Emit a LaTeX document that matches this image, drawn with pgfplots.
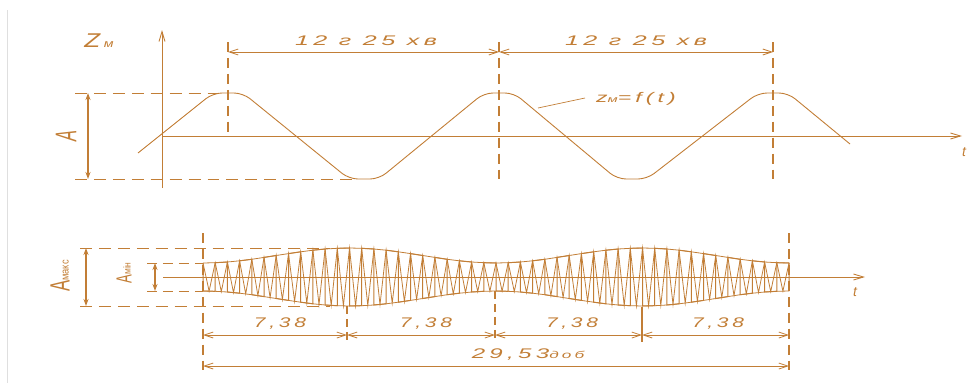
\documentclass[border=0pt]{standalone}
\usepackage{fontspec}
\setmainfont{Liberation Sans}
\newfontfamily\hand[LetterSpace=18]{Liberation Sans}
\usepackage{pgfplots}
\pgfplotsset{compat=1.18}
\usetikzlibrary{arrows.meta}
\definecolor{ink}{RGB}{194,126,54}
\tikzset{
  ln/.style={ink,line width=0.9pt},
  dsh/.style={ink,line width=0.9pt,dash pattern=on 12pt off 7pt},
  vdsh/.style={ink,line width=1.3pt,dash pattern=on 10pt off 6pt},
  dim/.style={ink,line width=0.8pt,{Straight Barb[length=9pt,width=6pt]}-{Straight Barb[length=9pt,width=6pt]}},
  amp/.style={ink,line width=1.2pt,{Stealth[length=7pt,width=5pt]}-{Stealth[length=7pt,width=5pt]}},
  ax/.style={ink,line width=0.9pt,-{Straight Barb[length=10pt,width=6pt]}},
  lbl/.style={text=ink,inner sep=0pt,xscale=1.5,font=\hand\itshape\fontsize{14}{14}\selectfont},
}
\begin{document}
\begin{tikzpicture}
\begin{axis}[width=968bp,height=383bp,scale only axis,
  xmin=0,xmax=968,ymin=0,ymax=383,y dir=reverse,
  hide axis,clip=false]
% frame corners (invisible)
\addplot[draw=none] coordinates {(0,0) (968,383)};
% light left border
\addplot[gray!25,line width=1pt] coordinates {(7,10) (7,383)};

% ---------------- TOP PANEL ----------------
\addplot[ax] coordinates {(162,188) (162,30)};
\addplot[ax] coordinates {(162,136) (962,136)};
% curve z = f(t)
\addplot[ln,rounded corners=9pt] coordinates {
 (138,153) (213,93) (243,93) (349,179) (379,179) (484,93) (514,93)
 (617,179) (647,179) (758,93) (788,93) (850,144)};
% dashed guides
\addplot[dsh] coordinates {(75,93) (224,93)};
\addplot[dsh] coordinates {(75,179) (352,179)};
\addplot[vdsh] coordinates {(228,42) (228,136)};
\addplot[vdsh] coordinates {(499,42) (499,180)};
\addplot[vdsh] coordinates {(773,42) (773,180)};
% dimension lines
\addplot[dim] coordinates {(228,52) (499,52)};
\addplot[dim] coordinates {(499,52) (773,52)};
% amplitude A
\addplot[amp] coordinates {(88,93) (88,179)};
% leader
\addplot[ln,line width=0.7pt] coordinates {(538,108) (585,98)};

% ---------------- BOTTOM PANEL ----------------
\addplot[ax] coordinates {(163,277) (865,277)};
% envelope top
\addplot[ln,line width=0.8pt] coordinates {
(203.0,263.0)(215.2,262.7)(227.4,262.0)(239.6,260.8)(251.8,259.3)(264.0,257.4)(276.2,255.5)(288.5,253.6)(300.7,251.8)(312.9,250.2)(325.1,249.0)(337.3,248.3)(349.5,248.0)(361.7,248.3)(373.9,249.0)(386.1,250.2)(398.3,251.8)(410.5,253.6)(422.7,255.5)(434.9,257.4)(447.2,259.3)(459.4,260.8)(471.6,262.0)(483.8,262.7)(496.0,263.0)(508.2,262.7)(520.4,262.0)(532.6,260.8)(544.8,259.3)(557.0,257.4)(569.2,255.5)(581.4,253.6)(593.7,251.8)(605.9,250.2)(618.1,249.0)(630.3,248.3)(642.5,248.0)(654.7,248.3)(666.9,249.0)(679.1,250.2)(691.3,251.8)(703.5,253.6)(715.7,255.5)(727.9,257.4)(740.2,259.3)(752.4,260.8)(764.6,262.0)(776.8,262.7)(789.0,263.0)};
% envelope bottom
\addplot[ln,line width=0.8pt] coordinates {
(203.0,291.0)(215.2,291.3)(227.4,292.0)(239.6,293.2)(251.8,294.7)(264.0,296.6)(276.2,298.5)(288.5,300.4)(300.7,302.2)(312.9,303.8)(325.1,305.0)(337.3,305.7)(349.5,306.0)(361.7,305.7)(373.9,305.0)(386.1,303.8)(398.3,302.2)(410.5,300.4)(422.7,298.5)(434.9,296.6)(447.2,294.7)(459.4,293.2)(471.6,292.0)(483.8,291.3)(496.0,291.0)(508.2,291.3)(520.4,292.0)(532.6,293.2)(544.8,294.7)(557.0,296.6)(569.2,298.5)(581.4,300.4)(593.7,302.2)(605.9,303.8)(618.1,305.0)(630.3,305.7)(642.5,306.0)(654.7,305.7)(666.9,305.0)(679.1,303.8)(691.3,302.2)(703.5,300.4)(715.7,298.5)(727.9,296.6)(740.2,294.7)(752.4,293.2)(764.6,292.0)(776.8,291.3)(789.0,291.0)};
% oscillation (zigzag)
\addplot[ln,line width=0.8pt] coordinates {
(203.0,263.0)(209.1,291.1)(215.2,262.7)(221.3,291.6)(227.4,262.0)(233.5,292.6)(239.6,260.8)(245.7,293.9)(251.8,259.3)(257.9,295.6)(264.0,257.4)(270.1,297.5)(276.2,255.5)(282.4,299.5)(288.5,253.6)(294.6,301.4)(300.7,251.8)(306.8,303.1)(312.9,250.2)(319.0,304.5)(325.1,249.0)(331.2,305.4)(337.3,248.3)(343.4,305.9)(349.5,248.0)(355.6,305.9)(361.7,248.3)(367.8,305.4)(373.9,249.0)(380.0,304.5)(386.1,250.2)(392.2,303.1)(398.3,251.8)(404.4,301.4)(410.5,253.6)(416.6,299.5)(422.7,255.5)(428.8,297.5)(434.9,257.4)(441.1,295.6)(447.2,259.3)(453.3,293.9)(459.4,260.8)(465.5,292.6)(471.6,262.0)(477.7,291.6)(483.8,262.7)(489.9,291.1)(496.0,263.0)
(502.1,291.1)(508.2,262.7)(514.3,291.6)(520.4,262.0)(526.5,292.6)(532.6,260.8)(538.7,293.9)(544.8,259.3)(550.9,295.6)(557.0,257.4)(563.1,297.5)(569.2,255.5)(575.3,299.5)(581.4,253.6)(587.6,301.4)(593.7,251.8)(599.8,303.1)(605.9,250.2)(612.0,304.5)(618.1,249.0)(624.2,305.4)(630.3,248.3)(636.4,305.9)(642.5,248.0)(648.6,305.9)(654.7,248.3)(660.8,305.4)(666.9,249.0)(673.0,304.5)(679.1,250.2)(685.2,303.1)(691.3,251.8)(697.4,301.4)(703.5,253.6)(709.6,299.5)(715.7,255.5)(721.8,297.5)(727.9,257.4)(734.0,295.6)(740.2,259.3)(746.3,293.9)(752.4,260.8)(758.5,292.6)(764.6,262.0)(770.7,291.6)(776.8,262.7)(782.9,291.1)(789.0,263.0)};
% oscillation (vertical strokes)
\addplot[ln,line width=1.0pt] coordinates {
(203.0,263.0)(203.0,291.0)(215.2,291.3)(215.2,262.7)(227.4,262.0)(227.4,292.0)(239.6,293.2)(239.6,260.8)(251.8,259.3)(251.8,294.7)(264.0,296.6)(264.0,257.4)(276.2,255.5)(276.2,298.5)(288.5,300.4)(288.5,253.6)(300.7,251.8)(300.7,302.2)(312.9,303.8)(312.9,250.2)(325.1,249.0)(325.1,305.0)(337.3,305.7)(337.3,248.3)(349.5,248.0)(349.5,306.0)(361.7,305.7)(361.7,248.3)(373.9,249.0)(373.9,305.0)(386.1,303.8)(386.1,250.2)(398.3,251.8)(398.3,302.2)(410.5,300.4)(410.5,253.6)(422.7,255.5)(422.7,298.5)(434.9,296.6)(434.9,257.4)(447.2,259.3)(447.2,294.7)(459.4,293.2)(459.4,260.8)(471.6,262.0)(471.6,292.0)(483.8,291.3)(483.8,262.7)(496.0,263.0)(496.0,291.0)
(508.2,291.3)(508.2,262.7)(520.4,262.0)(520.4,292.0)(532.6,293.2)(532.6,260.8)(544.8,259.3)(544.8,294.7)(557.0,296.6)(557.0,257.4)(569.2,255.5)(569.2,298.5)(581.4,300.4)(581.4,253.6)(593.7,251.8)(593.7,302.2)(605.9,303.8)(605.9,250.2)(618.1,249.0)(618.1,305.0)(630.3,305.7)(630.3,248.3)(642.5,248.0)(642.5,306.0)(654.7,305.7)(654.7,248.3)(666.9,249.0)(666.9,305.0)(679.1,303.8)(679.1,250.2)(691.3,251.8)(691.3,302.2)(703.5,300.4)(703.5,253.6)(715.7,255.5)(715.7,298.5)(727.9,296.6)(727.9,257.4)(740.2,259.3)(740.2,294.7)(752.4,293.2)(752.4,260.8)(764.6,262.0)(764.6,292.0)(776.8,291.3)(776.8,262.7)(789.0,263.0)(789.0,291.0)};
% dashed guides
\addplot[dsh] coordinates {(80,248) (330,248)};
\addplot[dsh] coordinates {(80,306) (330,306)};
\addplot[dsh,dash pattern=on 10pt off 6pt] coordinates {(147,263) (203,263)};
\addplot[dsh,dash pattern=on 10pt off 6pt] coordinates {(147,291) (203,291)};
\addplot[vdsh] coordinates {(203,233) (203,370)};
\addplot[vdsh] coordinates {(789,233) (789,370)};
\addplot[vdsh,dash pattern=on 8pt off 5pt] coordinates {(347,306) (347,342)};
\addplot[vdsh,dash pattern=on 8pt off 5pt] coordinates {(495,291) (495,342)};
\addplot[ln,line width=1.3pt] coordinates {(642,307) (642,342)};
% dimension lines
\addplot[dim] coordinates {(203,335) (347,335)};
\addplot[dim] coordinates {(347,335) (495,335)};
\addplot[dim] coordinates {(495,335) (642,335)};
\addplot[dim] coordinates {(642,335) (789,335)};
\addplot[dim] coordinates {(203,366) (789,366)};
% amplitude arrows
\addplot[amp] coordinates {(86,248) (86,306)};
\addplot[amp] coordinates {(155,263) (155,291)};

% ---------------- TEXT ----------------
\node[lbl,xscale=1.2] at (axis cs:366,41) {12 г 25 хв};
\node[lbl,xscale=1.2] at (axis cs:636,41) {12 г 25 хв};
\node[text=ink,inner sep=0pt,anchor=base west,xscale=1.3,font=\itshape] at (axis cs:84,47)
  {\fontsize{20}{20}\selectfont Z\hspace{3pt}\fontsize{11}{11}\selectfont м};
\node[text=ink,inner sep=0pt,rotate=90,xscale=0.55,font=\itshape\fontsize{30}{30}\selectfont] at (axis cs:66,136) {A};
\node[lbl,xscale=1.1] at (axis cs:636,99) {z\fontsize{9}{9}\selectfont м\fontsize{14}{14}\selectfont =f(t)};
\node[text=ink,inner sep=0pt,font=\itshape\fontsize{14}{14}\selectfont] at (axis cs:964,152) {t};
\node[text=ink,inner sep=0pt,font=\itshape\fontsize{14}{14}\selectfont] at (axis cs:855,292) {t};
\node[text=ink,inner sep=0pt,rotate=90,anchor=center,font=\fontsize{11}{11}\selectfont] at (axis cs:60,276)
  {\scalebox{0.6}[1]{\fontsize{28}{28}\selectfont A}\raisebox{1pt}{\scalebox{0.85}[1]{мaкс}}};
\node[text=ink,inner sep=0pt,rotate=90,anchor=center,font=\fontsize{10}{10}\selectfont] at (axis cs:124,273)
  {\scalebox{0.6}[1]{\fontsize{22}{22}\selectfont A}\raisebox{1pt}{\scalebox{0.85}[1]{мін}}};
\node[lbl,xscale=1.0] at (axis cs:280,324) {7,38};
\node[lbl,xscale=1.0] at (axis cs:426,324) {7,38};
\node[lbl,xscale=1.0] at (axis cs:572,324) {7,38};
\node[lbl,xscale=1.0] at (axis cs:718,324) {7,38};
\node[lbl,xscale=1.15] at (axis cs:528,355) {29,53\fontsize{10}{10}\selectfont доб};
\end{axis}
\end{tikzpicture}
\end{document}
